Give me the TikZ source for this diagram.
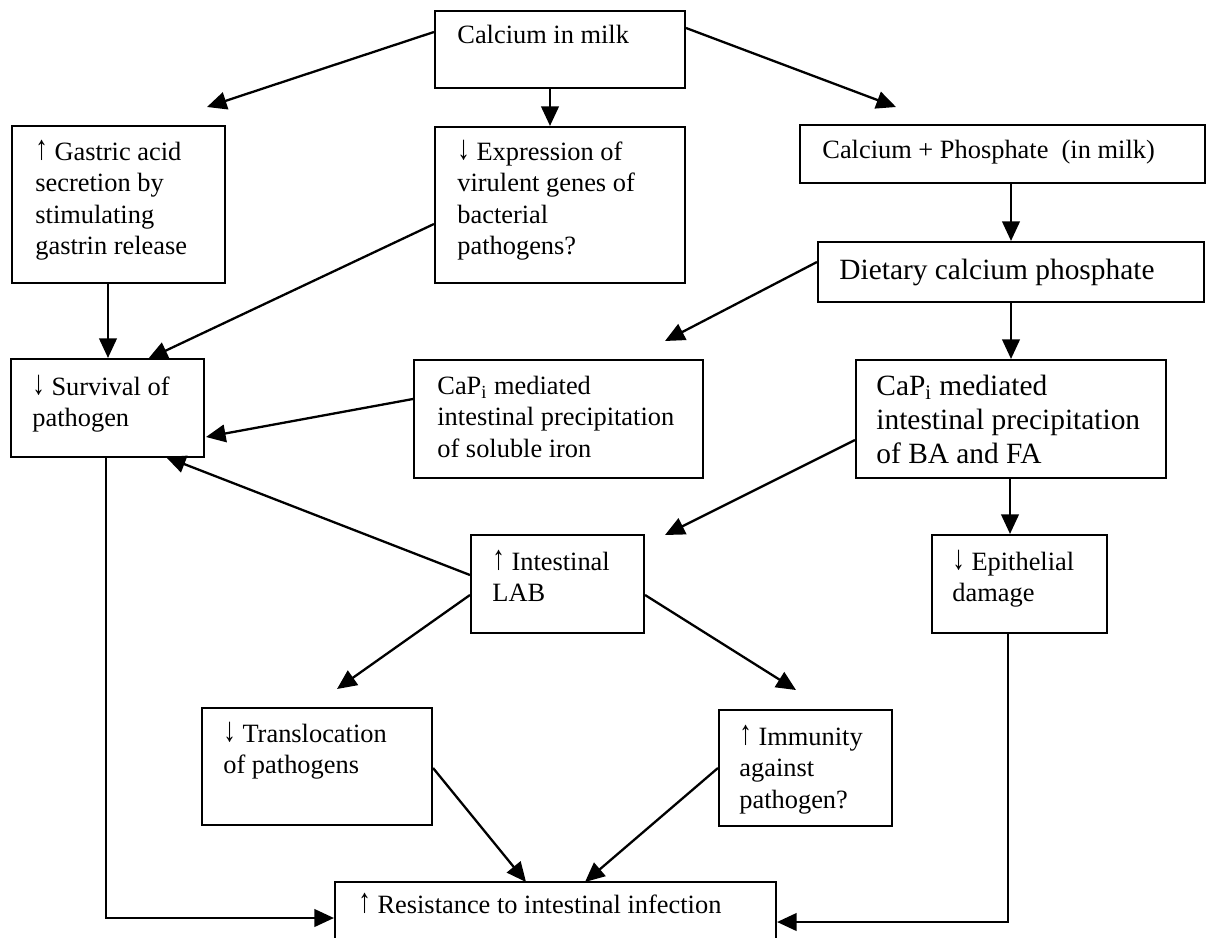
\documentclass[tikz,border=0pt]{standalone}
\usepackage{fontspec}
\usepackage{graphicx}
\setmainfont{Liberation Serif}
\usetikzlibrary{arrows.meta,fit,calc}
\newcommand\normtxt{\fontsize{13.2pt}{15.7pt}\selectfont}
\newcommand\bigtxt{\fontsize{14.7pt}{17pt}\selectfont}
\newcommand\myup{\raisebox{0.05ex}{\scalebox{0.95}[1.3]{↑}}}
\newcommand\mydown{\raisebox{0.05ex}{\scalebox{0.95}[1.3]{↓}}}
\begin{document}
\begin{tikzpicture}[x=0.5pt,y=-0.5pt,
  box/.style={draw, line width=1.05pt, inner sep=0pt},
  txt/.style={font=\normtxt, align=left, anchor=north west, inner sep=0pt},
  bigt/.style={txt, font=\bigtxt},
  arr/.style={draw, line width=1.15pt, -{Triangle[length=9.8pt,width=8.8pt]}}]
\clip (0,0) rectangle (1214,937);
\fill[white] (0,0) rectangle (1214,937);

% boxes
\node[box, fit={(435,11) (685,88)}] (cal) {};
\node[box, fit={(12,126) (225,283)}] (gas) {};
\node[box, fit={(435,127) (685,283)}] (exp) {};
\node[box, fit={(800,125) (1205,183)}] (cap) {};
\node[box, fit={(818,242) (1204,302)}] (diet) {};
\node[box, fit={(11,359) (204,457)}] (surv) {};
\node[box, fit={(414,360) (703,478)}] (iron) {};
\node[box, fit={(856,360) (1166,478)}] (ba) {};
\node[box, fit={(471,535) (644,633)}] (lab) {};
\node[box, fit={(932,535) (1107,633)}] (epi) {};
\node[box, fit={(202,708) (432,825)}] (trans) {};
\node[box, fit={(719,710) (892,826)}] (imm) {};
\node[box, fit={(335,882) (776,960)}] (res) {};

% texts
\node[txt] (calT) at (457,21) {\strut Calcium in milk};
\node[txt] (gasT) at (35,138) {\strut\myup\ Gastric acid\\secretion by\\stimulating\\gastrin release};
\node[txt] (expT) at (457,138) {\strut\mydown\ Expression of\\virulent genes of\\bacterial\\pathogens?};
\node[txt] (capT) at (822,136) {\strut Calcium + Phosphate~~(in milk)};
\node[bigt] (dietT) at (839,255) {\strut Dietary calcium phosphate};
\node[txt] (survT) at (32,373) {\strut\mydown\ Survival of\\pathogen};
\node[txt] (ironT) at (437,372) {\strut CaP\textsubscript{i} mediated\\intestinal precipitation\\of soluble iron};
\node[bigt] (baT) at (876,371) {\strut CaP\textsubscript{i} mediated\\intestinal precipitation\\of BA and FA};
\node[txt] (labT) at (492,548) {\strut\myup\ Intestinal\\LAB};
\node[txt] (epiT) at (952,548) {\strut\mydown\ Epithelial\\damage};
\node[txt] (transT) at (223,720) {\strut\mydown\ Translocation\\of pathogens};
\node[txt] (immT) at (739,723) {\strut\myup\ Immunity\\against\\pathogen?};
\node[txt] (resT) at (358,891) {\strut\myup\ Resistance to intestinal infection};

% free arrow ends
\coordinate (tGas) at (207,107);
\coordinate (tCap) at (896,107);
\coordinate (tSurvA) at (148,359);
\coordinate (tIron) at (665,341);
\coordinate (tSurvB) at (206,437);
\coordinate (tSurvC) at (166,457);
\coordinate (tLab) at (665,535);
\coordinate (tTrans) at (337,689);
\coordinate (tImm) at (796,690);
\coordinate (tResA) at (526,882);
\coordinate (tResB) at (585,882);

% connectors
\draw[arr] (cal.west |- 0,32) -- (tGas);
\draw[arr] (cal.south -| 550,0) -- (exp.north -| 550,0);
\draw[arr] (cal.east |- 0,28) -- (tCap);
\draw[arr] (gas.south -| 108,0) -- (surv.north -| 108,0);
\draw[arr] (exp.west |- 0,224) -- (tSurvA);
\draw[arr] (cap.south -| 1011,0) -- (diet.north -| 1011,0);
\draw[arr] (diet.west |- 0,262) -- (tIron);
\draw[arr] (iron.west |- 0,399) -- (tSurvB);
\draw[arr] (diet.south -| 1011,0) -- (ba.north -| 1011,0);
\draw[arr] (ba.south -| 1010,0) -- (epi.north -| 1010,0);
\draw[arr] (lab.west |- 0,575) -- (tSurvC);
\draw[arr] (ba.west |- 0,440) -- (tLab);
\draw[arr] (lab.west |- 0,595) -- (tTrans);
\draw[arr] (lab.east |- 0,595) -- (tImm);
\draw[arr] (trans.east |- 0,768) -- (tResA);
\draw[arr] (imm.west |- 0,768) -- (tResB);
\draw[arr] (surv.south -| 106,0) |- (res.west |- 0,918);
\draw[arr] (epi.south -| 1008,0) |- (res.east |- 0,922);
\end{tikzpicture}
\end{document}
